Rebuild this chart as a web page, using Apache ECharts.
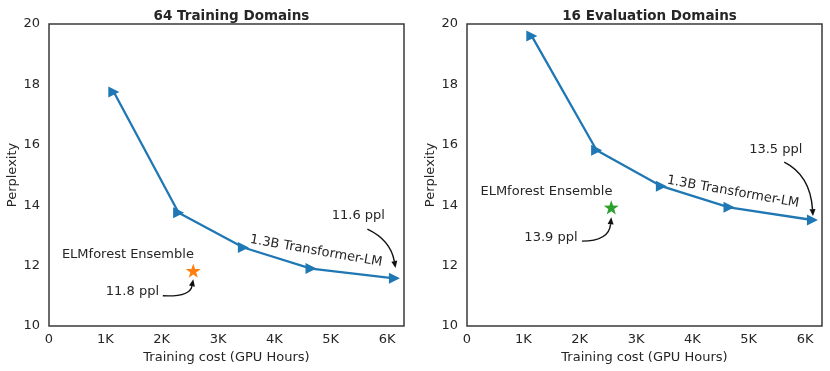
<!DOCTYPE html>
<html lang="en">
<head>
    <meta charset="UTF-8">
    <title>ELMforest vs Transformer-LM</title>
    <script src="https://cdn.jsdelivr.net/npm/echarts@6/dist/echarts.min.js"></script>
    <style>
        html, body { margin: 0; padding: 0; background: #fff; }
        #chart { width: 830px; height: 371px; }
    </style>
</head>
<body>
<div id="chart"></div>
<script type="text/javascript">

    // GPU hours for the 1.3B Transformer-LM checkpoints
    var costs = [1150, 2300, 3450, 4650, 6130];
    var trainPpl = [17.75, 13.75, 12.6, 11.9, 11.58];
    var evalPpl = [19.6, 15.82, 14.63, 13.93, 13.51];

    // ELMforest ensemble point
    var elmCost = 2560;
    var elmTrainPpl = 11.83;
    var elmEvalPpl = 13.93;

    var titles = ['64 Training Domains', '16 Evaluation Domains'];
    var yTicks = [10, 12, 14, 16, 18, 20];

    var blue = '#1f77b4', orange = '#ff7f0e', green = '#2ca02c';
    var ink = '#262626';
    var font = 'DejaVu Sans';
    var star = 'path://M50,0 L61.8,35.1 L98.6,35.4 L69,57.3 L79.4,92.5 L50,71.3 L20.6,92.5 L31,57.3 L1.4,35.4 L38.2,35.1 Z';

    function pairs(xs, ys) {
        return xs.map(function (x, i) { return [x, ys[i]]; });
    }

    var grids = [
        {left: 49, right: 426, top: 24, bottom: 45},
        {left: 467, right: 8, top: 24, bottom: 45}
    ];

    function xAxis(i) {
        return {
            type: 'value', gridIndex: i, min: 0, max: 6300, interval: 1000,
            name: 'Training cost (GPU Hours)', nameLocation: 'middle', nameGap: 23,
            nameTextStyle: {fontFamily: font, fontSize: 13, color: ink},
            axisLine: {show: false}, axisTick: {show: false}, splitLine: {show: false},
            axisLabel: {
                fontFamily: font, fontSize: 13, color: ink, margin: 7,
                formatter: function (v) {
                    if (v % 1000 !== 0) return '';
                    return v === 0 ? '0' : (v / 1000) + 'K';
                }
            }
        };
    }

    function yAxis(i) {
        return {
            type: 'value', gridIndex: i, min: yTicks[0], max: yTicks[yTicks.length - 1], interval: 2,
            name: 'Perplexity', nameLocation: 'middle', nameGap: 29,
            nameTextStyle: {fontFamily: font, fontSize: 13, color: ink},
            axisLine: {show: false}, axisTick: {show: false}, splitLine: {show: false},
            axisLabel: {fontFamily: font, fontSize: 13, color: ink, margin: 9}
        };
    }

    function lineSeries(i, ys) {
        return {
            type: 'line', xAxisIndex: i, yAxisIndex: i, data: pairs(costs, ys),
            lineStyle: {color: blue, width: 2.3}, itemStyle: {color: blue, opacity: 1},
            symbol: 'triangle', symbolRotate: -90, symbolSize: 11, showAllSymbol: true, z: 3
        };
    }

    function starSeries(i, y, color) {
        return {
            type: 'scatter', xAxisIndex: i, yAxisIndex: i, data: [[elmCost, y]],
            symbol: star, symbolKeepAspect: true, symbolSize: 15,
            itemStyle: {color: color, opacity: 1}, z: 4
        };
    }

    var chart = echarts.init(document.getElementById('chart'), null, {renderer: 'canvas'});

    chart.setOption({
        animation: false,
        title: titles.map(function (t, i) {
            var g = grids[i];
            return {
                text: t, left: (g.left + (830 - g.right)) / 2, top: 4, textAlign: 'center',
                textStyle: {fontFamily: font, fontSize: 13.5, fontWeight: 'bold', color: ink}
            };
        }),
        grid: grids.map(function (g) {
            return Object.assign({show: true, borderColor: '#3a3a3a', borderWidth: 1.5, backgroundColor: 'transparent'}, g);
        }),
        xAxis: [xAxis(0), xAxis(1)],
        yAxis: [yAxis(0), yAxis(1)],
        series: [
            lineSeries(0, trainPpl),
            lineSeries(1, evalPpl),
            starSeries(0, elmTrainPpl, orange),
            starSeries(1, elmEvalPpl, green)
        ]
    });

    // annotations, anchored in data coordinates
    var labels = [
        {g: 0, text: 'ELMforest Ensemble', at: [1400, 12.35]},
        {g: 0, text: '11.8 ppl', at: [1480, 11.14]},
        {g: 0, text: '11.6 ppl', at: [5490, 13.64]},
        {g: 0, text: '1.3B Transformer-LM', at: [4740, 12.48], rot: -10},
        {g: 1, text: 'ELMforest Ensemble', at: [1410, 14.45]},
        {g: 1, text: '13.9 ppl', at: [1490, 12.93]},
        {g: 1, text: '13.5 ppl', at: [5480, 15.85]},
        {g: 1, text: '1.3B Transformer-LM', at: [4720, 14.44], rot: -10}
    ];
    var arrows = [
        {g: 0, from: [2020, 11.0], ctrl: [2500, 10.96], to: [2560, 11.55]},
        {g: 0, from: [5650, 13.21], ctrl: [6060, 12.85], to: [6150, 11.92]},
        {g: 1, from: [2040, 12.81], ctrl: [2520, 12.81], to: [2560, 13.6]},
        {g: 1, from: [5630, 15.43], ctrl: [6090, 15.0], to: [6140, 13.64]}
    ];

    function px(g, p) {
        return chart.convertToPixel({gridIndex: g}, p);
    }

    var elements = [];
    labels.forEach(function (l) {
        var p = px(l.g, l.at);
        elements.push({
            type: 'text', x: p[0], y: p[1], rotation: (l.rot || 0) * Math.PI / 180,
            style: {
                text: l.text, fill: ink, font: '13px "' + font + '"',
                textAlign: 'center', textVerticalAlign: 'middle'
            },
            z: 10
        });
    });
    arrows.forEach(function (a) {
        var s = px(a.g, a.from), c = px(a.g, a.ctrl), e = px(a.g, a.to);
        var dx = e[0] - c[0], dy = e[1] - c[1];
        var len = Math.sqrt(dx * dx + dy * dy);
        var ux = dx / len, uy = dy / len;
        var hl = 7, hw = 3;
        var bx = e[0] - ux * hl, by = e[1] - uy * hl;
        elements.push({
            type: 'bezierCurve',
            shape: {x1: s[0], y1: s[1], cpx1: c[0], cpy1: c[1], x2: bx, y2: by},
            style: {stroke: '#111', lineWidth: 1.4, fill: null},
            z: 10
        });
        elements.push({
            type: 'polygon',
            shape: {points: [[e[0], e[1]], [bx - uy * hw, by + ux * hw], [bx + uy * hw, by - ux * hw]]},
            style: {fill: '#111'},
            z: 10
        });
    });
    chart.setOption({graphic: elements});

</script>
</body>
</html>
